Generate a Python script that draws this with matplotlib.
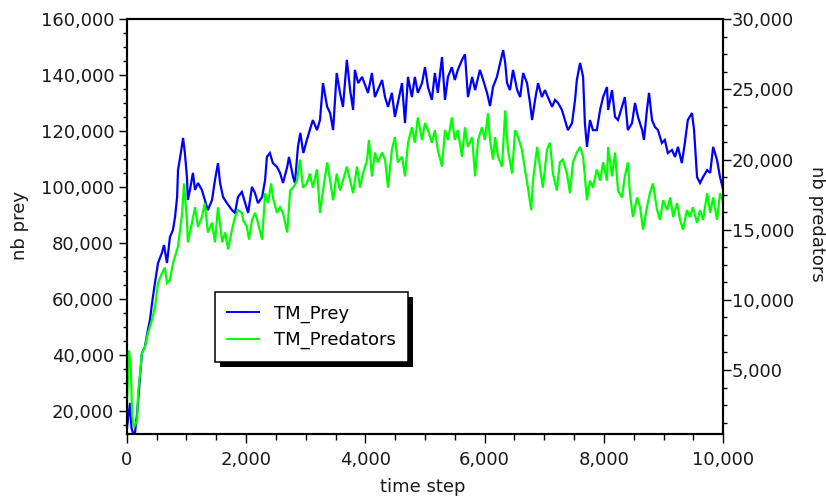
import matplotlib
matplotlib.use("Agg")
import matplotlib.pyplot as plt
from matplotlib.ticker import MultipleLocator, FuncFormatter
from matplotlib.patches import Rectangle
from matplotlib.transforms import IdentityTransform

# ---------------- data ----------------
prey_t = [0, 55, 80, 105, 140, 175, 200, 225, 255, 305, 355, 390, 425, 475, 525, 590, 625, 675,
          725, 775, 810, 845, 860, 910, 945, 975, 1010, 1025, 1060, 1110, 1145, 1195, 1260, 1310,
          1360, 1430, 1480, 1530, 1565, 1615, 1680, 1765, 1815, 1865, 1930, 1985, 2035, 2100, 2150,
          2200, 2270, 2320, 2350, 2400, 2450, 2520, 2570, 2620, 2690, 2720, 2790, 2820, 2870, 2910,
          2960, 3020, 3070, 3120, 3190, 3240, 3290, 3360, 3410, 3460, 3520, 3575, 3625, 3690, 3745,
          3795, 3825, 3880, 3945, 3995, 4045, 4110, 4160, 4210, 4280, 4330, 4380, 4445, 4495, 4545,
          4615, 4665, 4715, 4780, 4830, 4880, 4950, 5000, 5050, 5115, 5165, 5215, 5285, 5335, 5385,
          5450, 5500, 5550, 5620, 5670, 5720, 5790, 5840, 5920, 5975, 6040, 6090, 6140, 6205, 6260,
          6310, 6345, 6375, 6425, 6475, 6545, 6595, 6645, 6710, 6760, 6795, 6845, 6895, 6960, 7010,
          7060, 7130, 7180, 7230, 7295, 7345, 7395, 7465, 7515, 7545, 7600, 7650, 7680, 7715, 7765,
          7815, 7880, 7935, 7985, 8050, 8070, 8135, 8185, 8235, 8300, 8350, 8400, 8470, 8520, 8570,
          8640, 8670, 8720, 8755, 8805, 8855, 8905, 8970, 9020, 9070, 9140, 9190, 9240, 9305, 9355,
          9405, 9475, 9510, 9560, 9610, 9660, 9730, 9780, 9830, 9895, 9945, 10000]
prey = [13000, 22900, 14000, 12000, 12500, 19300, 26000, 33000, 40700, 42900, 49000, 52500, 58600,
        66000, 72900, 76500, 79300, 72900, 82200, 84700, 89300, 96500, 106100, 112600, 117600,
        112200, 103600, 95400, 99000, 105100, 99000, 101500, 99000, 95400, 91800, 95400, 102600,
        108600, 101500, 96500, 94300, 91800, 90800, 96500, 98300, 94300, 90800, 100100, 97900,
        94300, 96500, 102600, 110800, 112200, 108600, 107200, 105100, 101500, 107200, 110800,
        103600, 101500, 114400, 119400, 112200, 116900, 120400, 124000, 120400, 124000, 137200,
        128700, 126500, 120400, 140800, 133700, 128700, 145500, 134700, 127600, 141900, 137200,
        139400, 136500, 133700, 140800, 132200, 134700, 138300, 132200, 128700, 133700, 125100,
        130100, 137200, 122900, 139400, 132200, 139400, 133700, 137200, 142900, 135800, 131200,
        140800, 133700, 146500, 131200, 139400, 142900, 138300, 141900, 145500, 147500, 132200,
        139400, 134700, 141900, 138300, 133700, 129000, 135800, 139400, 144400, 149000, 144400,
        137200, 134700, 141900, 134700, 132200, 140800, 137200, 130100, 124000, 131200, 137200,
        132200, 134700, 132200, 128700, 131200, 130100, 127600, 124000, 120400, 122900, 131200,
        138300, 144400, 139400, 122900, 114400, 124000, 120400, 120400, 127600, 132200, 135800,
        127600, 134700, 125100, 124000, 128700, 132200, 120400, 122900, 130100, 125100, 120400,
        116900, 127600, 133700, 124000, 121500, 120400, 115800, 116900, 112200, 113300, 110800,
        114400, 108600, 115800, 124000, 126500, 120400, 103600, 101500, 103600, 106100, 105100,
        114400, 109700, 103600, 99000]

pred_t = [0, 40, 70, 90, 120, 175, 190, 225, 255, 305, 355, 425, 475, 510, 525, 590, 640, 675, 725,
          775, 810, 860, 930, 960, 1010, 1025, 1095, 1145, 1195, 1260, 1310, 1360, 1430, 1480, 1530,
          1600, 1650, 1700, 1765, 1815, 1865, 1930, 1950, 2015, 2050, 2100, 2150, 2200, 2270, 2320,
          2370, 2420, 2450, 2520, 2570, 2620, 2690, 2740, 2790, 2855, 2905, 2955, 3020, 3070, 3120,
          3190, 3240, 3290, 3360, 3410, 3460, 3520, 3575, 3625, 3690, 3745, 3795, 3860, 3910, 3960,
          4030, 4060, 4110, 4160, 4210, 4280, 4330, 4380, 4445, 4495, 4545, 4615, 4665, 4715, 4780,
          4830, 4880, 4950, 5000, 5050, 5115, 5165, 5215, 5285, 5335, 5385, 5450, 5500, 5550, 5620,
          5670, 5720, 5790, 5840, 5890, 5955, 6005, 6055, 6090, 6140, 6175, 6225, 6290, 6345, 6390,
          6460, 6510, 6560, 6625, 6675, 6725, 6780, 6810, 6880, 6925, 6975, 7045, 7095, 7145, 7210,
          7260, 7310, 7380, 7430, 7480, 7545, 7600, 7650, 7715, 7765, 7815, 7880, 7935, 7985, 8050,
          8070, 8135, 8185, 8235, 8300, 8350, 8400, 8435, 8485, 8555, 8605, 8655, 8720, 8770, 8820,
          8890, 8940, 8990, 9060, 9110, 9160, 9225, 9275, 9325, 9390, 9440, 9490, 9560, 9610, 9660,
          9730, 9780, 9830, 9895, 9945, 10000]
predators = [2100, 6400, 5000, 1900, 900, 1400, 3400, 4800, 6200, 6600, 7600, 8600, 9500, 10700,
             11200, 11900, 12300, 11200, 11400, 12600, 13100, 13800, 16200, 18300, 15700, 14100,
             15500, 16600, 15200, 15900, 16900, 14800, 15500, 14100, 16600, 14100, 14800, 13600,
             15000, 15900, 16400, 16200, 15700, 15200, 14300, 15700, 16200, 15500, 14300, 17600,
             16900, 18300, 17300, 16200, 16600, 16200, 14800, 17800, 18000, 18500, 20000, 18000,
             18300, 19000, 18000, 19300, 16200, 17800, 19800, 18500, 17100, 19000, 17800, 18500,
             19500, 18500, 17600, 19500, 18000, 19000, 20000, 21400, 18800, 20500, 19800, 20500,
             20000, 18000, 20700, 21600, 19800, 20200, 18800, 21200, 22300, 21200, 23000, 21400,
             22600, 22100, 21200, 22100, 20700, 19500, 22100, 21400, 23000, 21400, 22100, 20200,
             22300, 20900, 21600, 18800, 21400, 22300, 21400, 23300, 21400, 20000, 21600, 20200,
             19500, 23500, 20700, 19000, 22100, 21600, 20700, 19300, 18000, 16400, 18500, 20900,
             19500, 18000, 20700, 21200, 19000, 17800, 19800, 20000, 19000, 17600, 19800, 20500,
             20900, 20200, 17100, 18500, 18000, 19300, 18500, 19800, 18500, 20900, 18800, 20500,
             17800, 17300, 18800, 19800, 17600, 15900, 17300, 16600, 15000, 16600, 17600, 18300,
             16400, 15700, 17100, 16400, 17300, 15900, 16900, 15700, 15000, 16400, 15900, 16600,
             15500, 16400, 15700, 17600, 16200, 17300, 15700, 17600, 16900]

x_major_ticks = [0, 2000, 4000, 6000, 8000, 10000]
left_major_ticks = [20000, 40000, 60000, 80000, 100000, 120000, 140000, 160000]
right_major_ticks = [5000, 10000, 15000, 20000, 25000, 30000]
series_names = ["TM_Prey", "TM_Predators"]

# ---------------- figure ----------------
plt.rcParams['font.family'] = ['DejaVu Sans']
plt.rcParams['font.size'] = 13
TXT = '#1a1a1a'

fig = plt.figure(figsize=(8.26, 4.99), dpi=100)
ax = fig.add_axes([126.7 / 826, 1 - 434.3 / 499, (723.3 - 126.7) / 826, (434.3 - 19.3) / 499])
ax2 = ax.twinx()

l1, = ax.plot(prey_t, prey, color='#0000ff', lw=1.6, solid_joinstyle='miter')
l2, = ax2.plot(pred_t, predators, color='#00ff00', lw=1.6, solid_joinstyle='miter')

ax.set_xlim(0, 10000)
ax.set_ylim(11670, 160000)
ax2.set_ylim(416, 30000)

fmt = FuncFormatter(lambda v, p: f"{v:,.0f}")
ax.set_xticks(x_major_ticks)
ax.xaxis.set_minor_locator(MultipleLocator(500))
ax.set_yticks(left_major_ticks)
ax.yaxis.set_minor_locator(MultipleLocator(5000))
ax2.set_yticks(right_major_ticks)
ax2.yaxis.set_minor_locator(MultipleLocator(1250))
ax.xaxis.set_major_formatter(fmt)
ax.yaxis.set_major_formatter(fmt)
ax2.yaxis.set_major_formatter(fmt)

ax.tick_params(axis='x', which='major', length=6.5, width=1, pad=5.5, labelsize=13, colors='black', labelcolor=TXT)
ax.tick_params(axis='x', which='minor', length=4, width=1, colors='black')
ax.tick_params(axis='y', which='major', length=5.5, width=1, pad=3.5, labelsize=13, colors='black', labelcolor=TXT)
ax.tick_params(axis='y', which='minor', length=3, width=1, colors='black')
ax2.tick_params(axis='y', which='major', length=5.5, width=1, pad=0.5, labelsize=13, colors='black', labelcolor=TXT)
ax2.tick_params(axis='y', which='minor', length=3, width=1, colors='black')

for a in (ax, ax2):
    for s in a.spines.values():
        s.set_linewidth(1.5)
        s.set_color('black')

fig.text(20 / 826, 1 - 226 / 499, "nb prey", rotation=90, ha='center', va='center', fontsize=13, color=TXT)
fig.text(817 / 826, 1 - 224 / 499, "nb predators", rotation=270, ha='center', va='center', fontsize=13, color=TXT)
fig.text(423 / 826, 1 - 487 / 499, "time step", ha='center', va='center', fontsize=13, color=TXT)

leg = ax2.legend([l1, l2], series_names, loc='upper left',
                 bbox_to_anchor=(215 / 826, 1 - 292 / 499), bbox_transform=fig.transFigure,
                 borderaxespad=0, fancybox=False, frameon=True, framealpha=1,
                 edgecolor='black', fontsize=13, handlelength=1.75, handletextpad=0.85,
                 borderpad=0.68, labelspacing=0.48)
leg.get_frame().set_linewidth(1.1)
for line in leg.get_lines():
    line.set_linewidth(1.4)

fig.canvas.draw()
bb = leg.get_frame().get_window_extent(fig.canvas.get_renderer())
shadow = Rectangle((bb.x0 + 5, bb.y0 - 5), bb.width, bb.height, transform=IdentityTransform(),
                   facecolor='black', edgecolor='none', zorder=4.9, clip_on=False)
ax2.add_artist(shadow)

fig.savefig("out.png", dpi=100)
